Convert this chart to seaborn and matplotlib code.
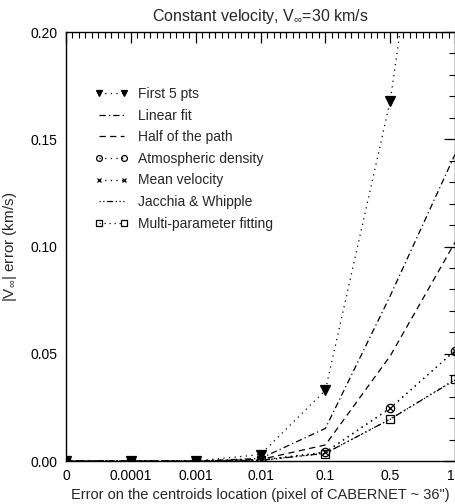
import numpy as np
import pandas as pd
import matplotlib
matplotlib.use("Agg")
import matplotlib.pyplot as plt
from matplotlib.ticker import AutoMinorLocator, MultipleLocator, FormatStrFormatter, FixedLocator
import seaborn as sns

# Centroid location error levels (pixels), plotted at evenly spaced positions
centroid_errors = ["0", "0.0001", "0.001", "0.01", "0.1", "0.5", "1"]

# |V_inf| error (km/s) for each method
first_5_pts = [0.0, 0.0, 0.0, 0.003, 0.033, 0.168, 0.38]
linear_fit = [0.0, 0.0, 0.0, 0.0012, 0.0152, 0.077, 0.143]
half_path = [0.0, 0.0, 0.0, 0.0007, 0.0075, 0.049, 0.102]
atmospheric_density = [0.0, 0.0, 0.0, 0.0004, 0.0040, 0.0245, 0.0515]
mean_velocity = [0.0, 0.0, 0.0, 0.0004, 0.0042, 0.0248, 0.0515]
jacchia_whipple = [0.0, 0.0, 0.0, 0.0003, 0.0036, 0.0195, 0.0378]
multi_parameter = [0.0, 0.0, 0.0, 0.0003, 0.0035, 0.0196, 0.0380]

sns.set_style("white")
plt.rcParams["font.family"] = ["Liberation Sans", "DejaVu Sans"]
plt.rcParams["mathtext.fontset"] = "custom"
plt.rcParams["mathtext.rm"] = "Liberation Sans"
plt.rcParams["mathtext.it"] = "Liberation Sans:italic"

pos = np.arange(len(centroid_errors))

series = [
    ("First 5 pts", first_5_pts, (0, (1, 3.5)), "v", "black", 7),
    ("Linear fit", linear_fit, (0, (5, 2.5, 1, 2.5)), "", "none", 0),
    ("Half of the path", half_path, (0, (5, 3.5)), "", "none", 0),
    ("Atmospheric density", atmospheric_density, (0, (1, 3.5)), "o", "none", 6),
    ("Mean velocity", mean_velocity, (0, (1, 3.5)), "x", "none", 5),
    ("Jacchia & Whipple", jacchia_whipple, (0, (1, 2, 1, 2, 5, 2, 1, 2, 1, 2)), "", "none", 0),
    ("Multi-parameter fitting", multi_parameter, (0, (1, 3)), "s", "none", 6),
]

fig = plt.figure(figsize=(4.56, 5.04), dpi=100)
ax = fig.add_axes([0.1447, 0.0853, 0.8533, 0.8512])

for label, vals, ls, mk, mfc, ms in series:
    df = pd.DataFrame({"pos": pos, "err": vals})
    sns.lineplot(data=df, x="pos", y="err", ax=ax, color="black", linewidth=0.9,
                 linestyle=ls, marker=mk if mk else None, markersize=ms,
                 markerfacecolor=mfc, markeredgecolor="black", markeredgewidth=0.9,
                 errorbar=None, sort=False, label=label)

ax.set_xlim(0, len(centroid_errors) - 1)
ax.set_ylim(0, 0.20)
ax.xaxis.set_major_locator(FixedLocator(pos))
ax.set_xticklabels(centroid_errors)
ax.get_xticklabels()[-1].set_horizontalalignment("right")
ax.xaxis.set_minor_locator(AutoMinorLocator(10))
ax.yaxis.set_major_locator(MultipleLocator(0.05))
ax.yaxis.set_minor_locator(MultipleLocator(0.01))
ax.yaxis.set_major_formatter(FormatStrFormatter("%.2f"))
ax.tick_params(which="both", direction="in", top=True, right=True, labelsize=10, colors="black")
ax.tick_params(which="major", length=8, width=0.9, pad=6)
ax.tick_params(which="minor", length=4, width=0.8)
for s in ax.spines.values():
    s.set_color("black")
    s.set_linewidth(1.0)

ax.set_title(r"Constant velocity, V$_{\infty}$=30 km/s", fontsize=11.5, pad=8)
ax.set_xlabel("Error on the centroids location (pixel of CABERNET ~ 36\")", fontsize=10.5, labelpad=3)
ax.set_ylabel(r"|V$_{\infty}$| error (km/s)", fontsize=11, labelpad=8)

ax.legend(loc="upper left", bbox_to_anchor=(0.06, 0.885), frameon=False, fontsize=10,
          handlelength=2.4, handletextpad=0.7, labelspacing=0.55, numpoints=2,
          markerscale=0.7, borderaxespad=0)

fig.savefig("out.png", dpi=100)
